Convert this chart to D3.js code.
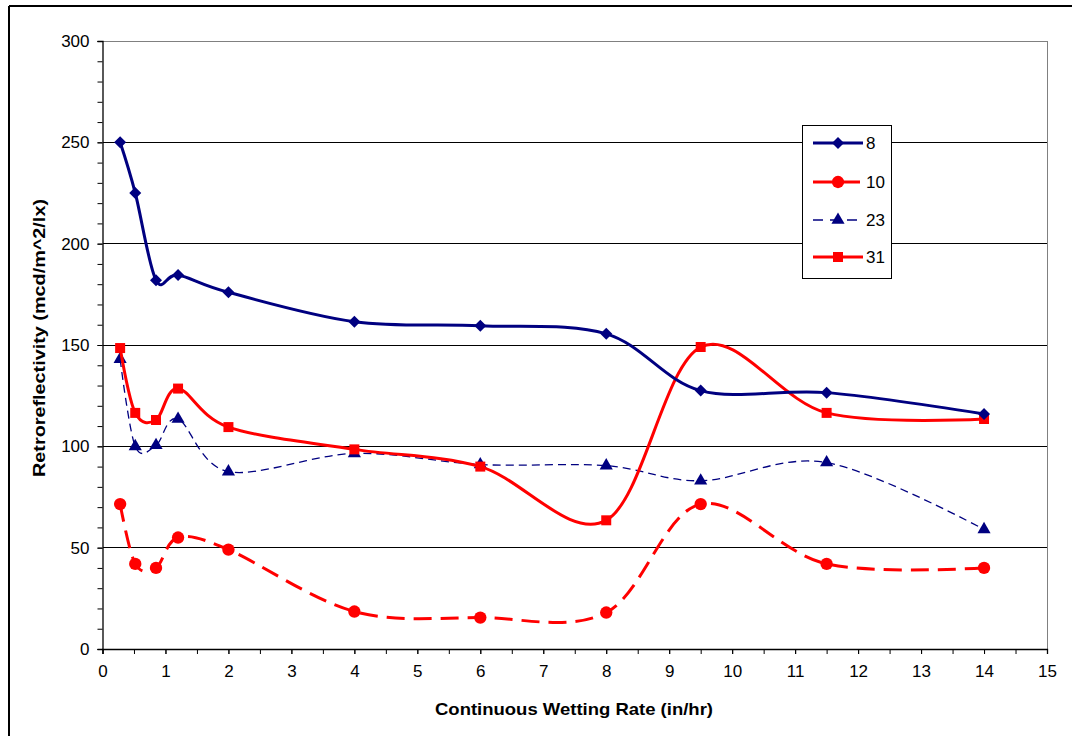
<!DOCTYPE html>
<html><head><meta charset="utf-8">
<script src="https://cdn.jsdelivr.net/npm/d3@7"></script>
<style>body{margin:0;background:#fff}svg{display:block}text{font-family:"Liberation Sans",Arial,sans-serif}</style>
</head><body><svg id="c" width="1072" height="736"></svg>
<script>
const xVals = [0.28, 0.52, 0.85, 1.2, 2, 4, 6, 8, 9.5, 11.5, 14];
const s8  = [250, 225, 182, 184.5, 176, 161.5, 159.5, 155.5, 127.5, 126.5, 116];
const s10 = [71.5, 42, 40, 55, 49, 18.5, 15.5, 18, 71.5, 42, 40];
const s23 = [143, 100, 100.5, 113.5, 87.5, 96.5, 91, 90.5, 83, 92, 59];
const s31 = [148.5, 116.5, 113, 128.5, 109.5, 98.5, 90, 63.5, 149, 116.5, 113.5];
const seriesNames = ["8", "10", "23", "31"];
const xTicks = d3.range(0, 16, 1);
const yTicks = [0, 50, 100, 150, 200, 250, 300];

const svg = d3.select("#c");
const L = 102.5, R = 1047, T = 41, B = 649;
const x = d3.scaleLinear().domain([0, 15]).range([L, R]);
const y = d3.scaleLinear().domain([0, 300]).range([B, T]);

// outer frame
svg.append("line").attr("x1", 9).attr("x2", 1072).attr("y1", 6).attr("y2", 6).attr("stroke", "#000").attr("stroke-width", 2);
svg.append("line").attr("x1", 9).attr("x2", 9).attr("y1", 6).attr("y2", 736).attr("stroke", "#000").attr("stroke-width", 2);

// gridlines
svg.append("g").selectAll("line").data(yTicks.filter(d => d > 0)).join("line")
  .attr("x1", L).attr("x2", R).attr("y1", d => y(d)).attr("y2", d => y(d))
  .attr("stroke", d => d === 300 ? "#808080" : "#000").attr("stroke-width", 1).attr("shape-rendering", "crispEdges");
svg.append("line").attr("x1", R).attr("x2", R).attr("y1", T).attr("y2", B).attr("stroke", "#808080").attr("shape-rendering", "crispEdges");

// axes
const yAxisMinor = d3.axisLeft(y).tickValues(d3.range(0, 301, 10)).tickSize(5).tickFormat("");
svg.append("g").attr("transform", `translate(${L},0)`).call(yAxisMinor)
  .call(g => g.select(".domain").attr("stroke", "#000").attr("stroke-width", 1.3));
const yAxis = d3.axisLeft(y).tickValues(yTicks).tickSize(5).tickPadding(8).tickFormat(d3.format("d"));
svg.append("g").attr("transform", `translate(${L},0)`).call(yAxis)
  .call(g => g.select(".domain").remove())
  .call(g => g.selectAll("text").attr("font-size", 17).attr("fill", "#000"));
const xAxisMinor = d3.axisBottom(x).tickValues(d3.range(0, 15.01, 0.5)).tickSize(5).tickFormat("");
svg.append("g").attr("transform", `translate(0,${B})`).call(xAxisMinor)
  .call(g => g.select(".domain").attr("stroke", "#000").attr("stroke-width", 1.3));
const xAxis = d3.axisBottom(x).tickValues(xTicks).tickSize(5).tickPadding(11).tickFormat(d3.format("d"));
svg.append("g").attr("transform", `translate(0,${B})`).call(xAxis)
  .call(g => g.select(".domain").remove())
  .call(g => g.selectAll("text").attr("font-size", 17).attr("fill", "#000"));

// titles
svg.append("text").attr("x", 574).attr("y", 715).attr("text-anchor", "middle")
  .attr("font-size", 17).attr("font-weight", "bold")
  .attr("textLength", 278).attr("lengthAdjust", "spacingAndGlyphs")
  .text("Continuous Wetting Rate (in/hr)");
svg.append("text").attr("transform", `translate(45,338) rotate(-90)`).attr("text-anchor", "middle")
  .attr("font-size", 16).attr("font-weight", "bold")
  .attr("textLength", 278).attr("lengthAdjust", "spacingAndGlyphs")
  .text("Retroreflectivity (mcd/m^2/lx)");

const series = [
  {name: seriesNames[0], vals: s8,  color: "#000080", w: 3,   dash: null,   sym: d3.symbolSquare,  size: 72, rot: 45},
  {name: seriesNames[1], vals: s10, color: "#FF0000", w: 3,   dash: "18,9", sym: d3.symbolCircle,  size: 120, rot: 0},
  {name: seriesNames[2], vals: s23, color: "#000080", w: 1.3, dash: "8,5",  sym: d3.symbolTriangle, size: 75, rot: 0},
  {name: seriesNames[3], vals: s31, color: "#FF0000", w: 3,   dash: null,   sym: d3.symbolSquare,  size: 100, rot: 0}
];

const line = d3.line().x(d => x(d[0])).y(d => y(d[1])).curve(d3.curveCardinal.tension(0));
const plot = svg.append("g");
[series[2], series[1], series[3], series[0]].forEach(s => {
  const pts = xVals.map((xv, i) => [xv, s.vals[i]]);
  plot.append("path").attr("d", line(pts)).attr("fill", "none").attr("stroke", s.color)
    .attr("stroke-width", s.w).attr("stroke-dasharray", s.dash);
  plot.append("g").selectAll("path").data(pts).join("path")
    .attr("transform", d => `translate(${x(d[0])},${y(d[1])}) rotate(${s.rot})`)
    .attr("d", d3.symbol().type(s.sym).size(s.size)).attr("fill", s.color);
});

// legend
const lg = svg.append("g");
lg.append("rect").attr("x", 802.5).attr("y", 125.5).attr("width", 89).attr("height", 153)
  .attr("fill", "#fff").attr("stroke", "#000").attr("stroke-width", 1);
const ly = [143, 182, 220, 257];
series.forEach((s, i) => {
  lg.append("line").attr("x1", 813).attr("x2", 863).attr("y1", ly[i]).attr("y2", ly[i])
    .attr("stroke", s.color).attr("stroke-width", s.w).attr("stroke-dasharray", s.dash ? (i === 1 ? "19,9" : "10,7") : null);
  lg.append("path").attr("transform", `translate(838,${ly[i]}) rotate(${s.rot})`)
    .attr("d", d3.symbol().type(s.sym).size(s.size)).attr("fill", s.color);
  lg.append("text").attr("x", 866).attr("y", ly[i] + 6).attr("font-size", 17).text(s.name);
});
</script></body></html>
